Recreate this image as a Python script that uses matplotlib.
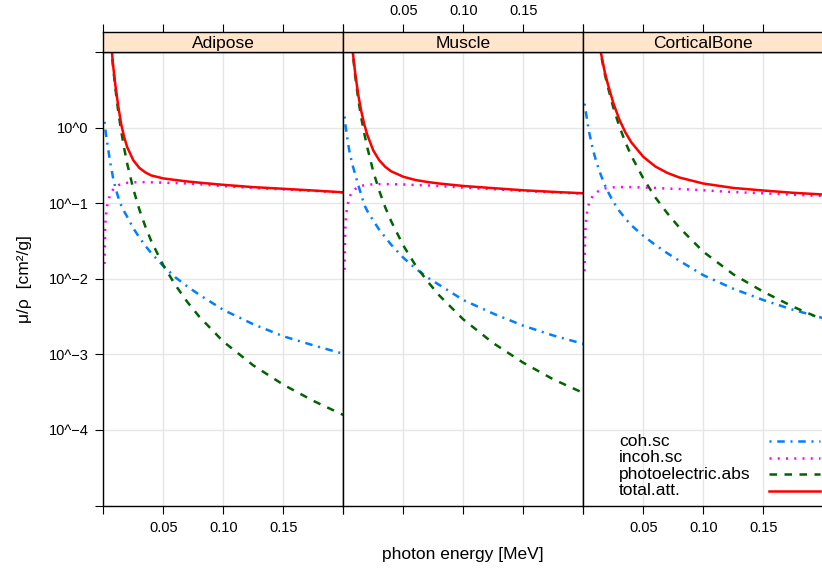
# Mass attenuation coefficients of three tissues, lattice-style panels
import matplotlib
matplotlib.use('Agg')
import matplotlib.pyplot as plt
from matplotlib.lines import Line2D
from matplotlib.ticker import NullLocator

plt.rcParams['font.family'] = ['Liberation Sans', 'DejaVu Sans']

# photon energy [MeV]
energy = [0.001, 0.0015, 0.002, 0.003, 0.004, 0.005, 0.006, 0.008, 0.01, 0.0125,
          0.015, 0.0175, 0.02, 0.025, 0.03, 0.035, 0.04, 0.05, 0.06, 0.07,
          0.08, 0.1, 0.125, 0.15, 0.175, 0.2]

# mu/rho [cm^2/g]
adipose_coh = [1.20, 1.05, 0.871, 0.676, 0.537, 0.417, 0.331, 0.224, 0.162, 0.120,
               0.0933, 0.0776, 0.0661, 0.0468, 0.0355, 0.0275, 0.0219, 0.0148, 0.0105, 0.00794,
               0.00617, 0.00389, 0.00251, 0.00174, 0.00132, 0.00102]
adipose_incoh = [0.0158, 0.0447, 0.0631, 0.0891, 0.107, 0.120, 0.132, 0.151, 0.166, 0.174,
                 0.180, 0.184, 0.187, 0.190, 0.191, 0.191, 0.190, 0.188, 0.186, 0.183,
                 0.179, 0.169, 0.160, 0.153, 0.146, 0.139]
adipose_photo = [3980, 1150, 479, 138, 57.5, 28.8, 16.6, 6.76, 3.39, 1.62,
                 0.891, 0.525, 0.331, 0.155, 0.0832, 0.0495, 0.0316, 0.0151, 0.00832, 0.00495,
                 0.00316, 0.00148, 0.000716, 0.000398, 0.000243, 0.000158]
adipose_total = [3980, 1150, 480, 139, 58.1, 29.3, 17.1, 7.13, 3.72, 1.91,
                 1.10, 0.741, 0.550, 0.372, 0.295, 0.257, 0.234, 0.214, 0.204, 0.195,
                 0.188, 0.176, 0.164, 0.156, 0.148, 0.140]

muscle_coh = [1.41, 1.20, 1.02, 0.794, 0.617, 0.501, 0.417, 0.309, 0.240, 0.174,
              0.129, 0.0955, 0.0794, 0.0589, 0.0447, 0.0355, 0.0282, 0.0191, 0.0138, 0.0105,
              0.00832, 0.00525, 0.00347, 0.00240, 0.00178, 0.00138]
muscle_incoh = [0.0132, 0.0398, 0.0603, 0.0851, 0.102, 0.117, 0.129, 0.145, 0.155, 0.164,
                0.170, 0.174, 0.176, 0.179, 0.180, 0.180, 0.179, 0.178, 0.175, 0.173,
                0.169, 0.162, 0.154, 0.146, 0.140, 0.134]
muscle_photo = [4570, 1380, 589, 174, 74.1, 38.0, 21.9, 9.33, 4.74, 2.37,
                1.35, 0.838, 0.550, 0.263, 0.146, 0.0883, 0.0575, 0.0277, 0.0153, 0.00933,
                0.00603, 0.00291, 0.00141, 0.000776, 0.000468, 0.000309]
muscle_total = [4570, 1380, 590, 175, 74.8, 38.6, 22.4, 9.78, 5.14, 2.71,
                1.65, 1.11, 0.805, 0.501, 0.371, 0.304, 0.265, 0.225, 0.204, 0.192,
                0.183, 0.170, 0.159, 0.149, 0.142, 0.136]

bone_coh = [2.09, 1.86, 1.66, 1.32, 1.05, 0.851, 0.724, 0.513, 0.398, 0.295,
            0.229, 0.182, 0.148, 0.105, 0.0794, 0.0631, 0.0513, 0.0372, 0.0282, 0.0219,
            0.0174, 0.0112, 0.00741, 0.00525, 0.00389, 0.00302]
bone_incoh = [0.0126, 0.0355, 0.0537, 0.0741, 0.0912, 0.102, 0.112, 0.126, 0.135, 0.145,
              0.151, 0.157, 0.160, 0.163, 0.164, 0.164, 0.164, 0.162, 0.160, 0.157,
              0.155, 0.149, 0.141, 0.136, 0.130, 0.125]
bone_photo = [3800, 1580, 851, 562, 380, 204, 120, 52.5, 27.5, 13.8,
              8.91, 5.50, 3.72, 1.86, 1.05, 0.646, 0.427, 0.214, 0.120, 0.0741,
              0.0479, 0.0229, 0.0115, 0.00676, 0.00427, 0.00288]
bone_total = [3800, 1580, 853, 563, 381, 205, 121, 53.1, 28.0, 14.2,
              9.29, 5.84, 4.03, 2.13, 1.29, 0.873, 0.642, 0.413, 0.308, 0.253,
              0.220, 0.183, 0.160, 0.148, 0.138, 0.131]

panel_names = ['Adipose', 'Muscle', 'CorticalBone']
series_names = ['coh.sc', 'incoh.sc', 'photoelectric.abs', 'total.att.']
x_ticks = [0, 0.05, 0.10, 0.15, 0.20]
x_ticklabels = ['', '0.05', '0.10', '0.15', '']
y_ticks = [1e-5, 1e-4, 1e-3, 1e-2, 1e-1, 1e0, 1e1]
y_ticklabels = ['', '10^\u22124', '10^\u22123', '10^\u22122', '10^\u22121', '10^0', '']

panel_data = [
    [adipose_coh, adipose_incoh, adipose_photo, adipose_total],
    [muscle_coh, muscle_incoh, muscle_photo, muscle_total],
    [bone_coh, bone_incoh, bone_photo, bone_total],
]

# colour, dash pattern (None = solid)
styles = [('#0080ff', (0.8, 2.3, 3, 2.3)),
          ('#ff00ff', (0.8, 2.5)),
          ('#006400', (3, 3)),
          ('#ff0000', None)]

W, H = 822, 572
fig = plt.figure(figsize=(W / 100, H / 100), dpi=100)

# pixel geometry of the panels
left0, pw = 103.3, 240.0
top, bottom, strip_top = 52.3, 505.5, 31.7
tick_len = 5.8
lw = 1.8

for i, name in enumerate(panel_names):
    left = left0 + pw * i
    ax = fig.add_axes([left / W, 1 - bottom / H, pw / W, (bottom - top) / H])
    ax.set_yscale('log')
    ax.set_xlim(0, 0.2)
    ax.set_ylim(1e-5, 1e1)
    ax.set_axisbelow(True)
    ax.grid(True, color='#e6e6e6', lw=1.0)

    for vals, (col, dash) in zip(panel_data[i], styles):
        line, = ax.plot(energy, vals, color=col, lw=lw)
        if dash is not None:
            line.set_dashes(dash)

    ax.set_xticks(x_ticks)
    ax.set_xticklabels(x_ticklabels, fontsize=10.5)
    ax.set_yticks(y_ticks)
    ax.set_yticklabels(y_ticklabels, fontsize=10.5)
    ax.yaxis.set_minor_locator(NullLocator())
    ax.tick_params(axis='x', direction='out', length=tick_len, width=0.8,
                   top=False, labelbottom=(i != 1), pad=5)
    ax.tick_params(axis='y', direction='out', length=tick_len, width=0.8,
                   left=(i == 0), labelleft=(i == 0), right=False, pad=5)
    for sp in ax.spines.values():
        sp.set_color('black')
        sp.set_linewidth(1.0)

    # strip with the panel name, top ticks live here
    sax = fig.add_axes([left / W, 1 - top / H, pw / W, (top - strip_top) / H])
    sax.set_facecolor('#ffe5cc')
    sax.set_xlim(0, 0.2)
    sax.set_xticks(x_ticks)
    sax.set_xticklabels(x_ticklabels, fontsize=10.5)
    sax.set_yticks([])
    sax.tick_params(axis='x', direction='out', length=tick_len, width=0.8,
                    top=True, bottom=False, labeltop=(i == 1), labelbottom=False, pad=4)
    for sp in sax.spines.values():
        sp.set_color('black')
        sp.set_linewidth(1.0)
    sax.text(0.5, 0.45, name, transform=sax.transAxes, ha='center', va='center',
             fontsize=12.5)

# axis titles
fig.text(24 / W, 1 - 279 / H, '\u03bc/\u03c1  [cm\u00b2/g]', rotation=90,
         ha='center', va='center', fontsize=12.5)
fig.text(463 / W, 1 - 555 / H, 'photon energy [MeV]', ha='center', va='center',
         fontsize=12.5)

# key, text left-aligned with line samples on the right
for k, (label, (col, dash)) in enumerate(zip(series_names, styles)):
    yk = 1 - (441 + 16.5 * k) / H
    fig.text(619 / W, yk, label, ha='left', va='center', fontsize=12.5)
    key = Line2D([769 / W, 820 / W], [yk, yk], transform=fig.transFigure,
                 color=col, lw=lw)
    if dash is not None:
        key.set_dashes(dash)
    fig.add_artist(key)

fig.savefig('out.png', dpi=100)
